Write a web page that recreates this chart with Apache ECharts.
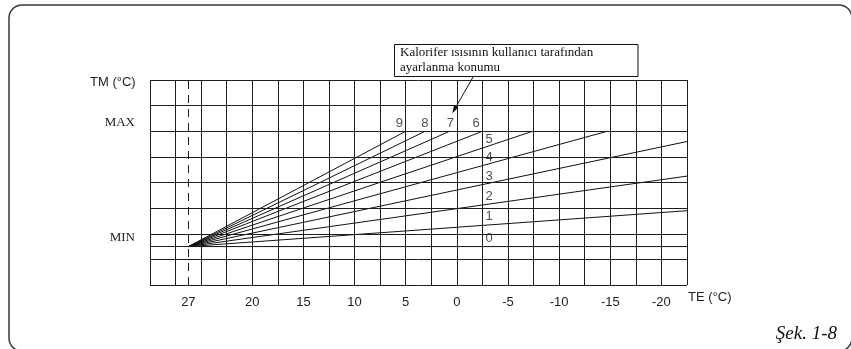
<!DOCTYPE html>
<html>
<head>
<meta charset="utf-8">
<script src="https://cdn.jsdelivr.net/npm/echarts@6/dist/echarts.min.js"></script>
<style>
  html, body { margin: 0; padding: 0; background: #fff; }
  #chart { width: 851px; height: 349px; }
</style>
</head>
<body>
<div id="chart"></div>
<script>
// outside temperature TE (°C), one grid column = 2.5 °C, drawn from warm (left) to cold (right)
const teMin = -22.5;
const teMax = 30;
const teStep = 2.5;
const teLabelValues = [26.25, 20, 15, 10, 5, 0, -5, -10, -15, -20];
const teLabelText = ['27', '20', '15', '10', '5', '0', '-5', '-10', '-15', '-20'];

// flow temperature TM, measured in grid rows (the original has no numbers here)
const tmRows = [0, 1, 1.5, 2, 3, 4, 5, 6, 7, 8];
const tmMin = 1.5;
const tmMax = 6;

// every setting line starts at TE 27 / MIN
const startPoint = [26.25, 1.5];

// user setting of the heating knob and where its line ends
const settings = ['0', '1', '2', '3', '4', '5', '6', '7', '8', '9'];
const lineEnds = [
  [-22.5, 1.5],
  [-22.5, 2.9],
  [-22.5, 4.25],
  [-22.5, 5.6],
  [-14.7, 6],
  [-7.4, 6],
  [-2.5, 6],
  [0.7, 6],
  [3.1, 6],
  [5, 6]
];
// grid column next to which each setting number is written
const labelColumns = [-2.5, -2.5, -2.5, -2.5, -2.5, -2.5, -2.5, 0, 2.5, 5];

const ink = '#111';
const gridInk = '#1e1e1e';

// y of a setting line at a given TE (stays at its end value past the end)
function lineYAt(i, x) {
  const [x0, y0] = startPoint;
  const [x1, y1] = lineEnds[i];
  let t = (x0 - x) / (x0 - x1);
  t = Math.max(0, Math.min(1, t));
  return { y: y0 + t * (y1 - y0), ended: t >= 1 };
}

const settingSeries = settings.map((s, i) => ({
  type: 'line',
  name: s,
  data: [startPoint, lineEnds[i]],
  symbol: 'none',
  silent: true,
  lineStyle: { color: ink, width: 1 }
}));

const labelData = settings.map((s, i) => {
  const pos = lineYAt(i, labelColumns[i]);
  return {
    value: [labelColumns[i], pos.y],
    name: s,
    label: { position: pos.ended ? [-10, -14] : [3, -15] }
  };
});

const chart = echarts.init(document.getElementById('chart'));

chart.setOption({
  animation: false,
  backgroundColor: '#fff',
  grid: { left: 150, top: 80, width: 537, height: 205, show: false },
  xAxis: {
    type: 'value',
    inverse: true,
    min: teMin,
    max: teMax,
    interval: teStep,
    axisLine: { show: false },
    axisTick: { show: false },
    splitLine: { show: true, lineStyle: { color: gridInk, width: 1 } },
    axisLabel: {
      customValues: teLabelValues,
      formatter: (v) => {
        let best = 0;
        teLabelValues.forEach((t, k) => {
          if (Math.abs(t - v) < Math.abs(teLabelValues[best] - v)) best = k;
        });
        return teLabelText[best];
      },
      fontFamily: 'Liberation Sans',
      fontSize: 13,
      color: '#222',
      margin: 11
    }
  },
  yAxis: {
    type: 'value',
    min: 0,
    max: 8,
    interval: 0.5,
    axisLine: { show: false },
    splitLine: { show: false },
    axisTick: {
      show: true,
      customValues: [tmMin, tmMax],
      length: 8,
      lineStyle: { color: gridInk, width: 1 }
    },
    axisLabel: {
      customValues: [tmMin, tmMax],
      formatter: (v) => (v === tmMin ? 'MIN' : 'MAX'),
      fontFamily: 'Liberation Serif',
      fontSize: 13,
      color: '#222',
      margin: 15,
      verticalAlign: 'bottom',
      padding: [0, 0, 2, 0]
    }
  },
  series: [
    {
      // horizontal grid rows and the dashed TE 27 line
      type: 'line',
      data: [],
      silent: true,
      markLine: {
        silent: true,
        symbol: 'none',
        label: { show: false },
        lineStyle: { color: gridInk, width: 1, type: 'solid' },
        data: tmRows.map((v) => ({ yAxis: v })).concat([
          { xAxis: startPoint[0], lineStyle: { type: [8, 6], color: gridInk, width: 1 } }
        ])
      }
    },
    ...settingSeries,
    {
      type: 'scatter',
      data: labelData,
      symbolSize: 0,
      silent: true,
      label: {
        show: true,
        formatter: (p) => p.name,
        fontFamily: 'Liberation Sans',
        fontSize: 13,
        color: '#222'
      }
    }
  ],
  graphic: [
    {
      type: 'rect',
      shape: { x: 9, y: 5, width: 843, height: 346, r: 13 },
      style: { fill: 'none', stroke: '#3a3a3a', lineWidth: 1.5 },
      silent: true
    },
    {
      type: 'text',
      left: 90,
      top: 76,
      style: { text: 'TM (°C)', font: '13px "Liberation Sans"', fill: '#222' }
    },
    {
      type: 'text',
      left: 688,
      top: 291,
      style: { text: 'TE (°C)', font: '13px "Liberation Sans"', fill: '#222' }
    },
    {
      type: 'rect',
      shape: { x: 394.5, y: 44.5, width: 243.5, height: 32 },
      style: { fill: '#fff', stroke: ink, lineWidth: 1 },
      silent: true
    },
    {
      type: 'text',
      left: 400,
      top: 45.5,
      style: {
        text: 'Kalorifer ısısının kullanıcı tarafından\nayarlanma konumu',
        font: '13px "Liberation Serif"',
        lineHeight: 14.5,
        fill: ink
      }
    },
    {
      type: 'line',
      shape: { x1: 473.3, y1: 76.7, x2: 455, y2: 108.5 },
      style: { stroke: ink, lineWidth: 1 },
      silent: true
    },
    {
      type: 'polygon',
      shape: { points: [[452.3, 113.3], [458.4, 107.6], [454.1, 105.1]] },
      style: { fill: ink },
      silent: true
    },
    {
      type: 'text',
      right: 14,
      top: 324,
      style: { text: 'Şek. 1-8', font: 'italic 19px "Liberation Serif"', fill: ink }
    }
  ]
});
</script>
</body>
</html>
